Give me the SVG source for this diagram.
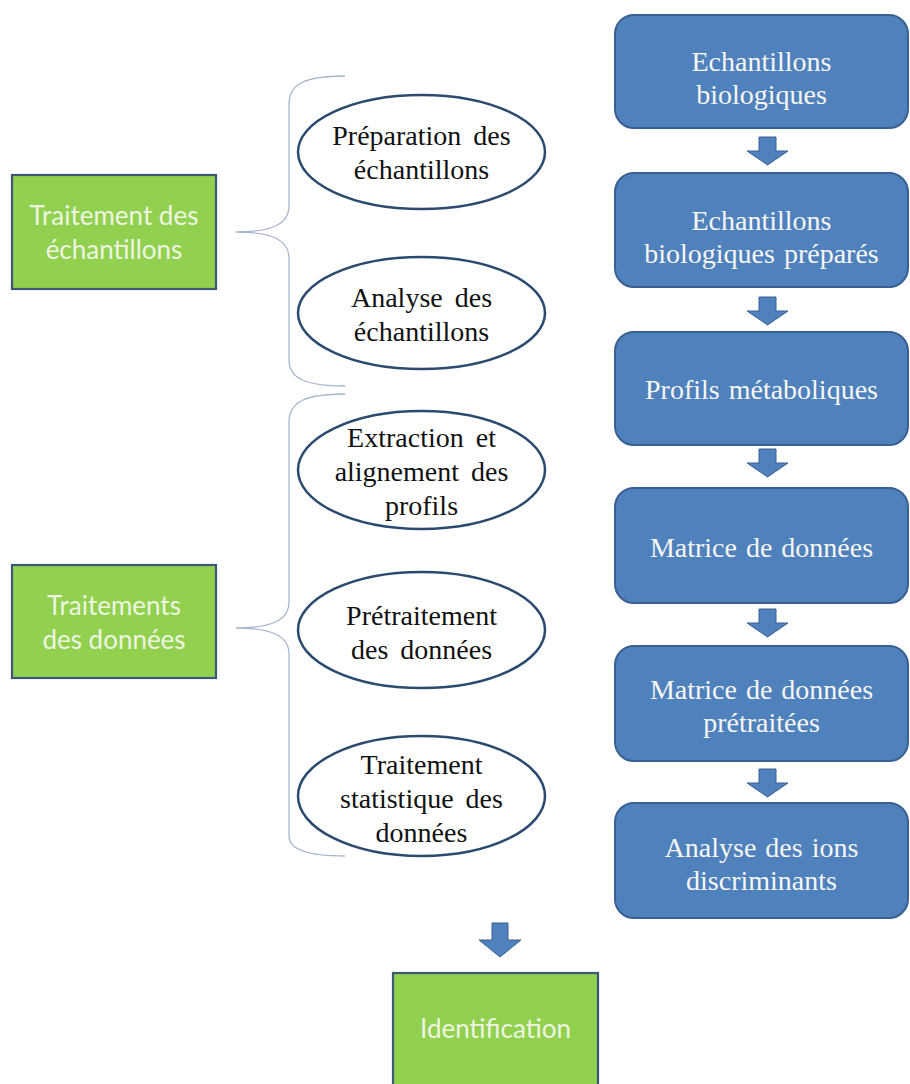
<svg xmlns="http://www.w3.org/2000/svg" width="910" height="1084" viewBox="0 0 910 1084">
<defs>
<style>
.blue{fill:#4f81bd;stroke:#3a6091;stroke-width:2}
.green{fill:#92d050;stroke:#3d5877;stroke-width:2.2}
.ell{fill:#ffffff;stroke:#2b4a70;stroke-width:2.5}
.brace{fill:none;stroke:#a7b6cc;stroke-width:1.3}
.arrow{fill:#4f81bd;stroke:#3a6091;stroke-width:1}
.tw{font-family:"Liberation Serif","Times New Roman",serif;font-size:28px;fill:#f7f7f2;text-anchor:middle;word-spacing:2px}
.tb{font-family:"Liberation Serif","Times New Roman",serif;font-size:28px;fill:#111111;text-anchor:middle;word-spacing:5px}
.tg{font-family:Lato,"Open Sans",sans-serif;font-size:26px;fill:#eef5e1;text-anchor:middle}
</style>
<path id="arr" d="M-8.5,0 H8.5 V14 H20.5 L0,28 L-20.5,14 H-8.5 Z"/>
</defs>
<rect width="910" height="1084" fill="#ffffff"/>

<g id="connectors">
<path class="brace" d="M345,76 C305,76 289,84 289,104 L289,206 C289,224 272,232 236,232 C272,232 289,240 289,258 L289,360 C289,378 305,386 345,386"/>
<path class="brace" d="M345,394 C305,394 289,402 289,422 L289,602 C289,620 272,628 236,628 C272,628 289,636 289,654 L289,836 C289,848 305,856 345,856"/>
<use href="#arr" class="arrow" transform="translate(767.5,137)"/>
<use href="#arr" class="arrow" transform="translate(767.5,297)"/>
<use href="#arr" class="arrow" transform="translate(767.5,449)"/>
<use href="#arr" class="arrow" transform="translate(767.5,609)"/>
<use href="#arr" class="arrow" transform="translate(767.5,769)"/>
<path class="arrow" d="M492,923 H508 V940 H521 L500,957 L479,940 H492 Z"/>
</g>

<g id="g-traitement-echantillons">
<rect class="green" x="12" y="175" width="204" height="114"/>
<text class="tg" x="114" y="225">Traitement des</text>
<text class="tg" x="114" y="259">échantillons</text>
</g>
<g id="g-traitements-donnees">
<rect class="green" x="12" y="565" width="204" height="113"/>
<text class="tg" x="114" y="615">Traitements</text>
<text class="tg" x="114" y="649">des données</text>
</g>
<g id="g-identification">
<rect class="green" x="393" y="973" width="205" height="120"/>
<text class="tg" x="495.5" y="1038">Identification</text>
</g>

<g id="e-preparation">
<ellipse class="ell" cx="421.5" cy="152" rx="123.5" ry="57"/>
<text class="tb" x="421.5" y="145">Préparation des</text>
<text class="tb" x="421.5" y="179">échantillons</text>
</g>
<g id="e-analyse">
<ellipse class="ell" cx="421.5" cy="313" rx="123.5" ry="56"/>
<text class="tb" x="421.5" y="307">Analyse des</text>
<text class="tb" x="421.5" y="341">échantillons</text>
</g>
<g id="e-extraction">
<ellipse class="ell" cx="421.5" cy="470" rx="123.5" ry="59"/>
<text class="tb" x="421.5" y="447">Extraction et</text>
<text class="tb" x="421.5" y="481">alignement des</text>
<text class="tb" x="421.5" y="515">profils</text>
</g>
<g id="e-pretraitement">
<ellipse class="ell" cx="421.5" cy="630" rx="123.5" ry="58"/>
<text class="tb" x="421.5" y="625">Prétraitement</text>
<text class="tb" x="421.5" y="659">des données</text>
</g>
<g id="e-statistique">
<ellipse class="ell" cx="421.5" cy="796" rx="123.5" ry="60"/>
<text class="tb" x="421.5" y="774">Traitement</text>
<text class="tb" x="421.5" y="808">statistique des</text>
<text class="tb" x="421.5" y="842">données</text>
</g>

<g id="b-echantillons">
<rect class="blue" x="615" y="15" width="293" height="113" rx="19"/>
<text class="tw" x="761.5" y="71">Echantillons</text>
<text class="tw" x="761.5" y="104">biologiques</text>
</g>
<g id="b-prepares">
<rect class="blue" x="615" y="173" width="293" height="114" rx="19"/>
<text class="tw" x="761.5" y="230">Echantillons</text>
<text class="tw" x="761.5" y="263">biologiques préparés</text>
</g>
<g id="b-profils">
<rect class="blue" x="615" y="332" width="293" height="113" rx="19"/>
<text class="tw" x="761.5" y="399">Profils métaboliques</text>
</g>
<g id="b-matrice">
<rect class="blue" x="615" y="488" width="293" height="115" rx="19"/>
<text class="tw" x="761.5" y="557">Matrice de données</text>
</g>
<g id="b-matrice-pretraitee">
<rect class="blue" x="615" y="646" width="293" height="115" rx="19"/>
<text class="tw" x="761.5" y="699">Matrice de données</text>
<text class="tw" x="761.5" y="732">prétraitées</text>
</g>
<g id="b-ions">
<rect class="blue" x="615" y="803" width="293" height="115" rx="19"/>
<text class="tw" x="761.5" y="857">Analyse des ions</text>
<text class="tw" x="761.5" y="890">discriminants</text>
</g>
</svg>
